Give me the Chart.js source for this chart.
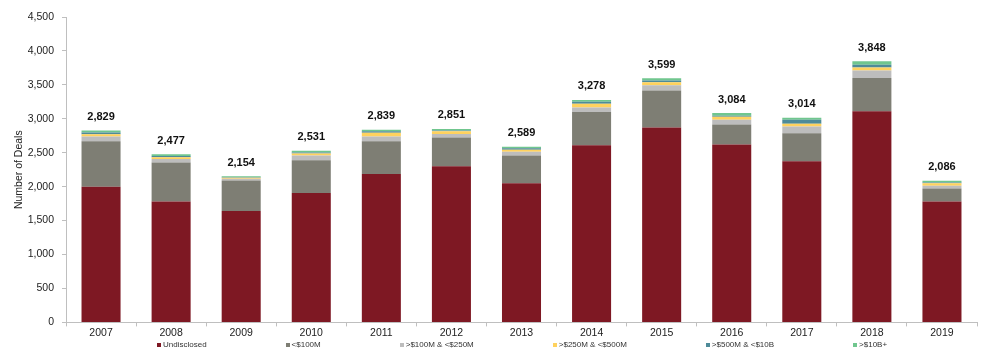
<!DOCTYPE html>
<html>
<head>
<meta charset="utf-8">
<script src="https://cdn.jsdelivr.net/npm/chart.js@4.4.1/dist/chart.umd.min.js"></script>
<style>
  html, body { margin: 0; padding: 0; background: #fff; }
  #wrap { position: relative; width: 987px; height: 359px; overflow: hidden; }
  #legend { position: absolute; left: 157px; top: 340px; display: flex; gap: 79px;
            font-family: "Liberation Sans", Arial, sans-serif; font-size: 8px; color: #333; white-space: nowrap; line-height: 10px; }
  .item { display: flex; align-items: center; }
  .box { width: 4px; height: 4px; margin-right: 2px; }
</style>
</head>
<body>
<div id="wrap">
  <canvas id="c" width="987" height="359"></canvas>
  <div id="legend"></div>
</div>
<script>
const categories = ['2007','2008','2009','2010','2011','2012','2013','2014','2015','2016','2017','2018','2019'];
const seriesNames = ['Undisclosed', '<$100M', '>$100M & <$250M', '>$250M & <$500M', '>$500M & <$10B', '>$10B+'];
const undisclosed = [2000,1780,1640,1905,2185,2300,2050,2610,2870,2620,2375,3110,1780];
const under100M   = [668,576,450,485,485,425,410,490,548,296,413,490,192];
const m100to250   = [70,50,25,68,70,50,55,65,78,70,98,113,40];
const m250to500   = [35,28,15,30,55,40,30,55,44,45,40,44,38];
const m500to10B   = [25,18,8,15,20,12,22,30,25,15,60,40,10];
const over10B     = [31,25,16,28,24,24,22,28,34,38,28,51,26];
const totals      = [2829,2477,2154,2531,2839,2851,2589,3278,3599,3084,3014,3848,2086];
const yTickLabels = ['0','500','1,000','1,500','2,000','2,500','3,000','3,500','4,000','4,500'];

const colors = ['#7E1823', '#7E7E74', '#BDBDBD', '#FFD25E', '#4E8B99', '#70C68E'];
const seriesData = [undisclosed, under100M, m100to250, m250to500, m500to10B, over10B];

const FONT = '"Liberation Sans", Arial, sans-serif';

const datasets = seriesData.map((d, i) => ({
  label: seriesNames[i],
  data: d,
  backgroundColor: colors[i],
  borderWidth: 0,
  categoryPercentage: 1,
  barPercentage: 0.557
}));

const totalLabels = {
  id: 'totalLabels',
  afterDatasetsDraw(chart) {
    const ctx = chart.ctx;
    const x = chart.scales.x, y = chart.scales.y;
    ctx.save();
    ctx.font = 'bold 11px ' + FONT;
    ctx.fillStyle = '#111';
    ctx.textAlign = 'center';
    ctx.textBaseline = 'middle';
    totals.forEach((t, i) => {
      ctx.fillText(t.toLocaleString('en-US'), x.getPixelForValue(i), y.getPixelForValue(t) - 13.5);
    });
    ctx.restore();
  }
};

new Chart(document.getElementById('c'), {
  type: 'bar',
  data: { labels: categories, datasets },
  options: {
    responsive: false,
    animation: false,
    devicePixelRatio: 1,
    layout: { padding: { top: 17, right: 10, bottom: 20, left: 0 } },
    plugins: { legend: { display: false }, tooltip: { enabled: false } },
    scales: {
      x: {
        stacked: true,
        grid: { display: true, drawOnChartArea: false, offset: true, color: '#BFBFBF', tickLength: 4, tickColor: '#BFBFBF' },
        border: { display: true, color: '#BFBFBF' },
        ticks: { font: { family: FONT, size: 10.5 }, color: '#222', padding: 0, maxRotation: 0 }
      },
      y: {
        stacked: true,
        min: 0, max: 4500,
        afterFit(s) { s.width = 66; },
        grid: { display: true, drawOnChartArea: false, color: '#BFBFBF', tickLength: 4, tickColor: '#BFBFBF' },
        border: { display: true, color: '#BFBFBF' },
        ticks: { stepSize: 500, font: { family: FONT, size: 10.5 }, color: '#222', padding: 8,
                 callback: (v, i) => yTickLabels[i] },
        title: { display: true, text: 'Number of Deals', font: { family: FONT, size: 10.5 }, color: '#222', padding: { top: 13, bottom: 0 } }
      }
    }
  },
  plugins: [totalLabels]
});

const leg = document.getElementById('legend');
seriesNames.forEach((n, i) => {
  const it = document.createElement('div'); it.className = 'item';
  const b = document.createElement('span'); b.className = 'box'; b.style.background = colors[i];
  const t = document.createElement('span'); t.textContent = n;
  it.appendChild(b); it.appendChild(t); leg.appendChild(it);
});
</script>
</body>
</html>
